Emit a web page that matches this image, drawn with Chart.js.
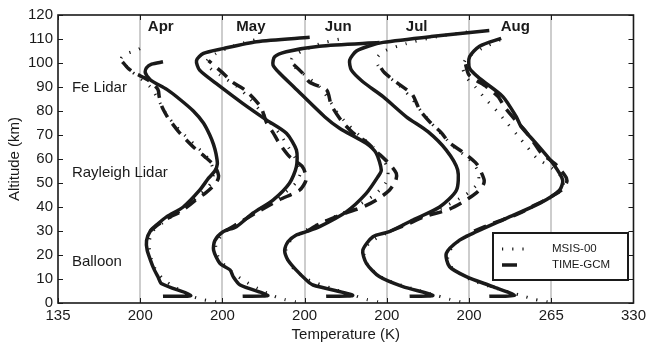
<!DOCTYPE html>
<html>
<head>
<meta charset="utf-8">
<script src="https://cdn.jsdelivr.net/npm/chart.js@4.4.0/dist/chart.umd.min.js"></script>
<style>
  body { margin: 0; background: #fff; }
</style>
</head>
<body>
<canvas id="tempProfiles" width="650" height="345"></canvas>
<script>
const months = ['Apr', 'May', 'Jun', 'Jul', 'Aug']
const panelShift = 65   // every month is moved right by 65 K

const xTickValues = [135, 200, 265, 330, 395, 460, 525, 590]
const xTickLabels = ['135', '200', '200', '200', '200', '200', '265', '330']
const yTickValues = [0, 10, 20, 30, 40, 50, 60, 70, 80, 90, 100, 110, 120]

const sourceLabels = ['Fe Lidar', 'Rayleigh Lidar', 'Balloon']
const legendLabels = ['MSIS-00', 'TIME-GCM']

// [altitude km, temperature K] - balloon / Rayleigh lidar / Fe lidar
const aprObs = [[2.8,218],[3.2,240],[8,217],[11,214],[14,211],[18,208],[22,205.5],[26,205],[30,208],[33,214],[36,221],[40,234],[47,247],[52,254],[55,259],[58,261],[62,260],[66,258],[70,255],[75,250],[80,242],[85,231],[89,221],[93,208],[96,204],[98,205],[99.5,209],[100.5,218]]
const mayObs = [[2.8,216],[3.2,236],[7.5,214],[11,208.5],[13.8,206],[16.5,198],[22,193],[26,194],[29.7,200.5],[31.8,211],[37.4,224],[42.9,240],[49.9,253],[56.8,258.5],[63.7,258.5],[70.7,250.6],[76.2,235],[83.2,216],[91.5,195],[97,182],[101,179.5],[104,185],[106,200.5],[108.9,227],[110.7,269]]
const junObs = [[2.8,217],[3.2,238],[7.5,206.6],[9.6,201.3],[13.7,193.4],[17.9,186.8],[22,184.2],[25.5,186.8],[28.3,193.4],[29.7,201.3],[31.8,211.8],[38,232.9],[45.7,248.7],[52.6,257.9],[55.4,260.6],[62.4,256.6],[66.5,248.7],[72.8,227.6],[77.6,215.8],[90,191.5],[95.7,180.3],[99.2,175],[102.6,176.3],[104.7,185.5],[107,211.8],[108.5,259.2]]
const julObs = [[2.8,218],[3.2,236.4],[6.8,212.7],[11,194],[16.5,183.8],[22,181],[27.6,189],[29.7,202],[34.6,220.6],[40,241.7],[47,255],[55.4,256],[63.7,247],[71.4,232.5],[77.6,215.4],[86,197],[92.2,181],[97,172],[101.2,170.6],[105,176],[107.2,186.4],[108.6,197],[111,235],[113.5,281]]
const augObs = [[2.8,216],[3.2,236],[6.8,218.8],[11,197.8],[15.1,184.6],[20.7,182],[26.2,192.5],[29.7,205.7],[35.3,229.4],[41.5,255.7],[47,271.5],[51.2,274],[58.2,266.2],[66.5,253],[73.5,241.2],[77.6,237.3],[86,226.7],[93.6,208.3],[97.8,200.4],[102.6,200.4],[107,208.3],[110.3,225.4]]

// TIME-GCM
const aprGcm = [[30,208],[33,215],[36,224],[38,232],[40,237],[43,244],[46,252],[50,260],[53,262],[57,259],[61,251],[65,242],[71,231],[75,225],[78,221],[82,217],[86,215],[89,214],[93,206],[96,195],[98,190],[100.5,186]]
const mayGcm = [[30,202],[33,212],[38,228],[43,245],[47,261],[51,266],[54,265.5],[57,263],[61,253],[66.5,245],[71,240],[75,235],[78,233],[82,230],[88.7,218],[92,208],[96,200],[101,189]]
const junGcm = [[30,202],[33,212],[37,230],[40,246],[43,257],[47,267],[51,272],[54,272.5],[58,267],[63,257],[67,249],[71,238],[76,229],[82.5,221],[88.7,217.5],[92,204],[96,198],[101,188]]
const julGcm = [[30,203],[33,217],[36,230],[39,249],[42,260],[46,271],[49,276],[51,277],[54,275],[58,271],[62.5,261],[67,249],[71,243],[75.4,234],[80.4,226],[87,220],[91,210],[96,198],[100,193]]
const augGcm = [[30,204],[33,218],[37.4,240],[40,249],[43.7,263],[47,273],[50,277],[52,277],[55,273],[58,268],[62.5,257],[67,251],[72,244],[75.4,238],[81.7,228],[86,223],[90,214],[95,200],[100,197]]

// MSIS-00
const aprMsis = [[0.5,260],[1.5,249],[3,240],[7,226],[10,218],[15,211],[20,208],[25,207],[30,210],[35,222],[40,236],[45,247],[50,256],[55,258],[60,254],[65,245],[70,235],[75,226],[80,219],[85,214],[90,208],[94,199],[97,192],[100,187],[102,185],[104,190],[105.5,198],[108,206]]
const mayMsis = [[0.5,258],[1.5,249],[3,240],[6,228],[10,215],[15,203],[20,196],[25,195],[30,203],[35,218],[40,232],[45,247],[50,258],[55,262],[60,258],[65,252],[70,246],[75,238],[80,230],[85,222],[90,212],[95,198],[98,190],[101,188],[104,195],[107,208],[110,228]]
const junMsis = [[0.5,258],[1.5,249],[3,240],[6,222],[10,202],[15,190],[20,185],[25,187],[30,200],[35,220],[40,240],[45,255],[50,264],[55,266],[60,262],[65,254],[70,243],[75,233],[80,225],[85,219],[90,212],[95,200],[99,191],[102,190],[105,198],[108,212],[110,228]]
const julMsis = [[0.5,258],[1.5,250],[3,240],[6,220],[10,198],[15,186],[20,182],[25,186],[30,203],[35,224],[40,245],[45,262],[50,272],[55,272],[60,265],[65,253],[70,244],[75,235],[80,227],[85,220],[90,211],[95,200],[99,193],[102,192],[105,198],[108,215],[111,240],[113,265]]
const augMsis = [[0.5,262],[1.5,252],[3,242],[6,222],[10,200],[15,186],[20,183],[25,190],[30,205],[35,228],[40,250],[45,268],[48,274],[52,274],[56,266],[60.4,253.5],[65,246],[70,238],[75,230],[80,222],[85,213],[90,205],[94,198],[98,195],[102,198],[106,210],[110,226]]

const obsProfiles = [aprObs, mayObs, junObs, julObs, augObs]
const gcmProfiles = [aprGcm, mayGcm, junGcm, julGcm, augGcm]
const msisProfiles = [aprMsis, mayMsis, junMsis, julMsis, augMsis]

const FONT = "'Liberation Sans', Arial, Helvetica, sans-serif"
const INK = '#1a1a1a'

const toPoints = (rows, i) => rows.map(([alt, t]) => ({x: t + i * panelShift, y: alt}))

const msisStyle = {borderColor: INK, borderWidth: 3, borderDash: [1.2, 9], borderCapStyle: 'butt'}
const gcmStyle = {borderColor: INK, borderWidth: 3.5, borderDash: [13, 8], borderCapStyle: 'butt'}
const obsStyle = {borderColor: INK, borderWidth: 3.5}

const datasets = []
months.forEach((m, i) => {
    datasets.push({label: m + ' MSIS-00', data: toPoints(msisProfiles[i], i), order: 3, ...msisStyle})
    datasets.push({label: m + ' TIME-GCM', data: toPoints(gcmProfiles[i], i), order: 2, ...gcmStyle})
    datasets.push({label: m + ' obs', data: toPoints(obsProfiles[i], i), order: 1, ...obsStyle})
})

// month names sit just right of each 200 K line
const monthLabelT = [206, 211, 216, 215, 225]
const monthLabelAlt = 113.4
const sourceLabelT = 146
const sourceLabelAlt = [87.8, 52.4, 15.4]

const decorations = {
    id: 'decorations',
    afterDatasetsDraw(chart) {
        const {ctx, chartArea: a, scales: {x, y}} = chart
        ctx.save()

        // frame + inward ticks
        ctx.strokeStyle = INK
        ctx.lineWidth = 1
        ctx.beginPath()
        yTickValues.forEach(v => {
            const py = Math.round(y.getPixelForValue(v)) + 0.5
            ctx.moveTo(a.left, py); ctx.lineTo(a.left + 5, py)
            ctx.moveTo(a.right, py); ctx.lineTo(a.right - 5, py)
        })
        xTickValues.forEach(v => {
            const px = Math.round(x.getPixelForValue(v)) + 0.5
            ctx.moveTo(px, a.top); ctx.lineTo(px, a.top + 5)
            ctx.moveTo(px, a.bottom); ctx.lineTo(px, a.bottom - 5)
        })
        ctx.stroke()
        ctx.lineWidth = 1.6
        ctx.strokeRect(a.left, a.top, a.right - a.left, a.bottom - a.top)

        // month names
        ctx.fillStyle = INK
        ctx.textBaseline = 'alphabetic'
        ctx.font = 'bold 15px ' + FONT
        months.forEach((m, i) => {
            ctx.fillText(m, x.getPixelForValue(monthLabelT[i] + i * panelShift), y.getPixelForValue(monthLabelAlt))
        })

        // data sources
        ctx.font = '15px ' + FONT
        sourceLabels.forEach((s, i) => {
            ctx.fillText(s, x.getPixelForValue(sourceLabelT), y.getPixelForValue(sourceLabelAlt[i]))
        })

        // legend box
        const lx = 493, ly = 233, lw = 135, lh = 47
        ctx.fillStyle = '#fff'
        ctx.fillRect(lx, ly, lw, lh)
        ctx.lineWidth = 2
        ctx.strokeStyle = INK
        ctx.strokeRect(lx, ly, lw, lh)

        ctx.lineWidth = msisStyle.borderWidth
        ctx.setLineDash(msisStyle.borderDash)
        ctx.beginPath(); ctx.moveTo(502, ly + 16); ctx.lineTo(530, ly + 16); ctx.stroke()
        ctx.lineWidth = gcmStyle.borderWidth
        ctx.setLineDash([])
        ctx.beginPath(); ctx.moveTo(502, ly + 32); ctx.lineTo(517, ly + 32); ctx.stroke()

        ctx.fillStyle = INK
        ctx.font = '11.5px ' + FONT
        ctx.textBaseline = 'middle'
        legendLabels.forEach((l, i) => ctx.fillText(l, 552, ly + 16 + i * 16))
        ctx.restore()
    }
}

Chart.defaults.font.family = FONT
Chart.defaults.color = INK

new Chart(document.getElementById('tempProfiles'), {
    type: 'scatter',
    data: {datasets},
    options: {
        responsive: false,
        animation: false,
        showLine: true,
        layout: {padding: {top: 15, right: 16, left: 0, bottom: 0}},
        elements: {
            point: {radius: 0, hoverRadius: 0},
            line: {tension: 0.25, fill: false}
        },
        plugins: {legend: {display: false}, tooltip: {enabled: false}},
        scales: {
            x: {
                type: 'linear',
                min: 135, max: 590,
                afterBuildTicks: s => { s.ticks = xTickValues.map(v => ({value: v})) },
                afterFit: s => { s.height = 42 },
                ticks: {
                    font: {size: 15}, padding: 4, maxRotation: 0, autoSkip: false,
                    callback: (v, i) => xTickLabels[i]
                },
                grid: {
                    drawTicks: false,
                    lineWidth: 2,
                    color: c => (c.tick && (c.tick.value === 135 || c.tick.value === 590)) ? 'rgba(0,0,0,0)' : '#cdcdcd'
                },
                border: {display: false},
                title: {display: true, text: 'Temperature (K)', font: {size: 15}, padding: {top: 0, bottom: 1}}
            },
            y: {
                min: 0, max: 120,
                afterBuildTicks: s => { s.ticks = yTickValues.map(v => ({value: v})) },
                afterFit: s => { s.width = 58 },
                ticks: {font: {size: 15}, padding: 5},
                grid: {display: false, drawTicks: false},
                border: {display: false},
                title: {display: true, text: 'Altitude (km)', font: {size: 15}, padding: {top: 6, bottom: 0}}
            }
        }
    },
    plugins: [decorations]
})
</script>
</body>
</html>
